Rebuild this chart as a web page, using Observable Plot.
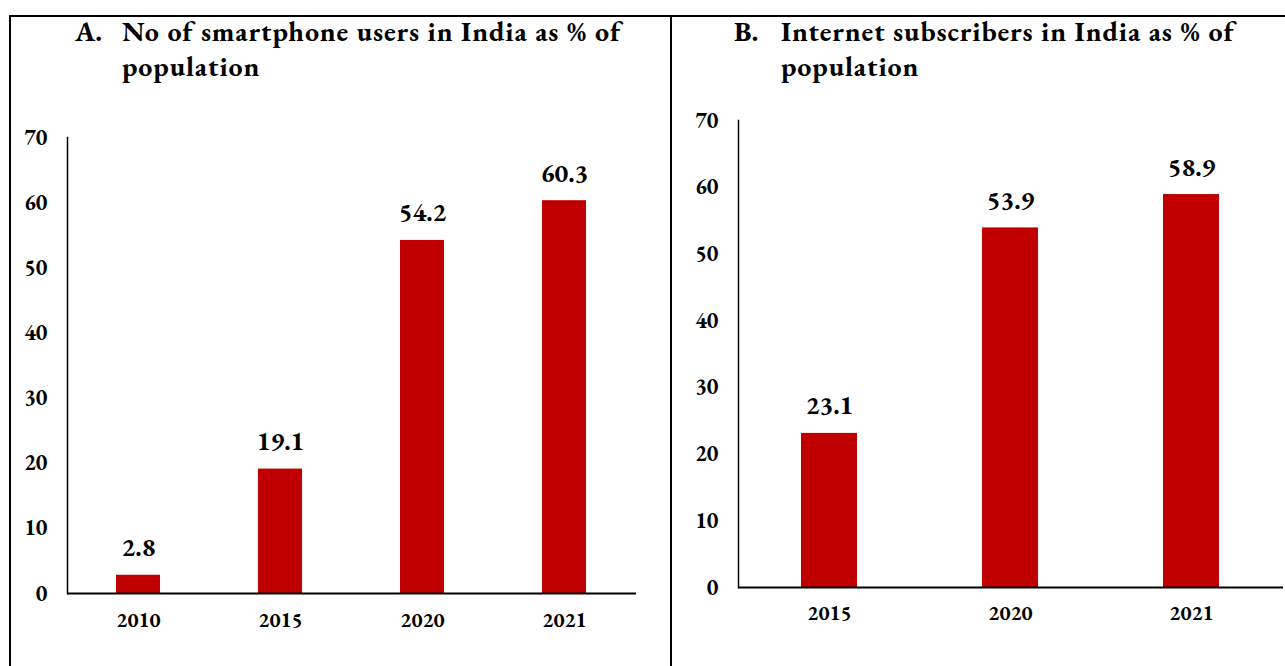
<!DOCTYPE html>
<html>
<head>
<meta charset="utf-8">
<script src="https://cdn.jsdelivr.net/npm/d3@7"></script>
<script src="https://cdn.jsdelivr.net/npm/@observablehq/plot@0.6"></script>
<style>
  html, body { margin: 0; padding: 0; background: #fff; overflow: hidden; }
  #root { position: relative; width: 1285px; height: 666px; font-family: "EB Garamond", "Liberation Serif", serif; }
  .panel { position: absolute; border: 2px solid #000; box-sizing: border-box; }
  .title { position: absolute; font-weight: bold; font-size: 28px; line-height: 35px; color: #000; letter-spacing: 0.9px; }
  .title .lab { position: absolute; left: -47px; top: 0; letter-spacing: 0; }
  .plot { position: absolute; top: 0; }
</style>
</head>
<body>
<div id="root">
  <div class="panel" style="left:9px; top:15px; width:663px; height:700px;"></div>
  <div class="panel" style="left:670px; top:15px; width:700px; height:700px;"></div>
  <div class="title" style="left:122px; top:14px; width:540px;"><span class="lab">A.</span>No of smartphone users in India as % of population</div>
  <div class="title" style="left:781px; top:14px; width:480px;"><span class="lab">B.</span>Internet subscribers in India as % of population</div>
  <div id="plotA" class="plot" style="left:0px;"></div>
  <div id="plotB" class="plot" style="left:671px;"></div>
</div>
<script>
// Panel A: smartphone users in India as % of population
const yearsA = ["2010", "2015", "2020", "2021"];
const valuesA = [2.8, 19.1, 54.2, 60.3];
// Panel B: internet subscribers in India as % of population
const yearsB = ["2015", "2020", "2021"];
const valuesB = [23.1, 53.9, 58.9];
const yTicks = [0, 10, 20, 30, 40, 50, 60, 70];

const barColor = "#C00000";
const FONT = "'EB Garamond', 'Liberation Serif', serif";

function makeChart(years, values, opts) {
  const data = years.map((y, i) => ({year: y, value: values[i]}));
  return Plot.plot({
    width: opts.width,
    height: 666,
    marginLeft: opts.marginLeft,
    marginRight: opts.marginRight,
    marginTop: opts.marginTop,
    marginBottom: opts.marginBottom,
    style: {fontFamily: FONT, fontSize: "21px", fontWeight: "bold", color: "#000", background: "transparent", overflow: "visible"},
    x: {domain: years, paddingInner: 0.69, paddingOuter: 0.345, label: null},
    y: {domain: [0, 70], label: null},
    marks: [
      Plot.barY(data, {x: "year", y: "value", fill: barColor}),
      Plot.text(data, {x: "year", y: "value", text: d => d.value.toFixed(1), dy: -19, lineAnchor: "bottom", fontSize: 26, fontWeight: "bold", fill: "#000"}),
      Plot.axisY({ticks: yTicks, tickSize: 0, tickPadding: 20, fontSize: 22, fontWeight: "bold", label: null}),
      Plot.axisX({tickSize: 0, tickPadding: opts.xPad, fontSize: 21, fontWeight: "bold", label: null}),
      Plot.frame({anchor: "left", stroke: "#000", strokeWidth: 1.5}),
      Plot.ruleY([0], {stroke: "#000", strokeWidth: 2})
    ]
  });
}

document.getElementById("plotA").appendChild(makeChart(yearsA, valuesA, {
  width: 671, marginLeft: 67, marginRight: 35, marginTop: 137, marginBottom: 73, xPad: 19
}));
document.getElementById("plotB").appendChild(makeChart(yearsB, valuesB, {
  width: 614, marginLeft: 67, marginRight: 2, marginTop: 120, marginBottom: 79, xPad: 18
}));
</script>
</body>
</html>
